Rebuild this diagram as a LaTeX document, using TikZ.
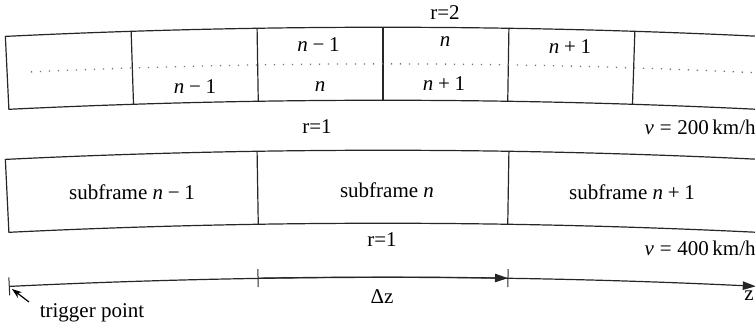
\documentclass[tikz,border=0pt]{standalone}
\usepackage{fontspec}
\setmainfont{Liberation Serif}
\usetikzlibrary{calc,arrows.meta}
\newcommand\mmin{\hspace{0.222em}−\hspace{0.222em}}
\newcommand\mpl{\hspace{0.222em}+\hspace{0.222em}}
\newcommand\meq{\hspace{0.278em}=\hspace{0.278em}}
\newcommand\vn{\textit{n}}
\def\dang{0.92554}
\begin{document}
\begin{tikzpicture}[x=0.5pt,y=0.5pt,font=\fontsize{10.5}{12.6}\selectfont,
  band/.style={line width=0.6pt,draw=black!85},
  dotline/.style={draw=black!55,line width=0.65pt,dash pattern=on 0.65pt off 3.85pt},
  lbl/.style={inner sep=0pt},
  tickmark/.style={line width=0.5pt,draw=black!85},
  axisline/.style={line width=0.6pt,draw=black!85},
  tiparrow/.style={-{Triangle[length=6.5pt,width=4.2pt]}},
  ptr/.style={line width=0.6pt,-{Stealth[length=5pt,width=3.5pt]}}]
\useasboundingbox (0,0) rectangle (755,326);
\clip (0,0) rectangle (755,326);
\coordinate (C1) at (383,-7501);
\coordinate (C2) at (383,-7624);
\coordinate (C3) at (383,-7751);
% ---------- top band (r=2 / r=1)
\draw[band] ($(C1)+(92.7766:3900pt)$) arc[start angle=92.7766,end angle=87.2234,radius=3900pt]
  -- ($(C1)+(87.2234:3863.5pt)$) arc[start angle=87.2234,end angle=92.7766,radius=3863.5pt] -- cycle;
\foreach \k in {2,1,0,-1,-2}
  \draw[band] ($(C1)+({90+\k*\dang}:3900pt)$) -- ($(C1)+({90+\k*\dang}:3863.5pt)$);
\draw[dotline] ($(C1)+(92.60:3881.75pt)$) arc[start angle=92.60,end angle=87.2,radius=3881.75pt];
% ---------- second band
\draw[band] ($(C2)+(92.7766:3900pt)$) arc[start angle=92.7766,end angle=87.2234,radius=3900pt]
  -- ($(C2)+(87.2234:3863.5pt)$) arc[start angle=87.2234,end angle=92.7766,radius=3863.5pt] -- cycle;
\foreach \k in {1,-1}
  \draw[band] ($(C2)+({90+\k*\dang}:3900pt)$) -- ($(C2)+({90+\k*\dang}:3863.5pt)$);
% ---------- labels
\node[lbl] (r2) at (445,313) {r=2};
\node[lbl] (u1) at (318.5,281) {\vn\mmin1};
\node[lbl] (u2) at (445,284) {\vn};
\node[lbl] (u3) at (570,279) {\vn\mpl1};
\node[lbl] (l1) at (195,239) {\vn\mmin1};
\node[lbl] (l2) at (320,239) {\vn};
\node[lbl] (l3) at (444,242) {\vn\mpl1};
\node[lbl] (r1a) at (317,199) {r=1};
\node[lbl,anchor=east] (v200) at (756,199) {\textit{v}\meq200\,km/h};
\node[lbl] (s1) at (132,134) {subframe \vn\mmin1};
\node[lbl] (s2) at (387,136) {subframe \vn};
\node[lbl] (s3) at (632,134) {subframe \vn\mpl1};
\node[lbl] (r1b) at (382,86) {r=1};
\node[lbl,anchor=east] (v400) at (756,78) {\textit{v}\meq400\,km/h};
\node[lbl] (dz) at (382,29) {Δz};
\node[lbl,anchor=east] (zz) at (754,30) {z};
\node[lbl] (trig) at (92,13) {trigger point};
% ---------- axis
\coordinate (A0) at ($(C3)+(92.747:3900pt)$);
\coordinate (A1) at ($(C3)+(90.918:3900pt)$);
\coordinate (A2) at ($(C3)+(89.082:3900pt)$);
\draw[axisline,tiparrow] (A0) arc[start angle=92.747,end angle=87.26,radius=3900pt];
\draw[axisline,tiparrow] (A1) arc[start angle=90.918,end angle=89.082,radius=3900pt];
\foreach \a/\n in {92.747/A0,90.918/A1,89.082/A2}
  \draw[tickmark] ($(C3)+(\a:3895.5pt)$) -- ($(C3)+(\a:3904.5pt)$);
\coordinate (P0) at (29,24);
\coordinate (P1) at (12,37);
\draw[ptr] (P0) -- (P1);
\end{tikzpicture}
\end{document}
